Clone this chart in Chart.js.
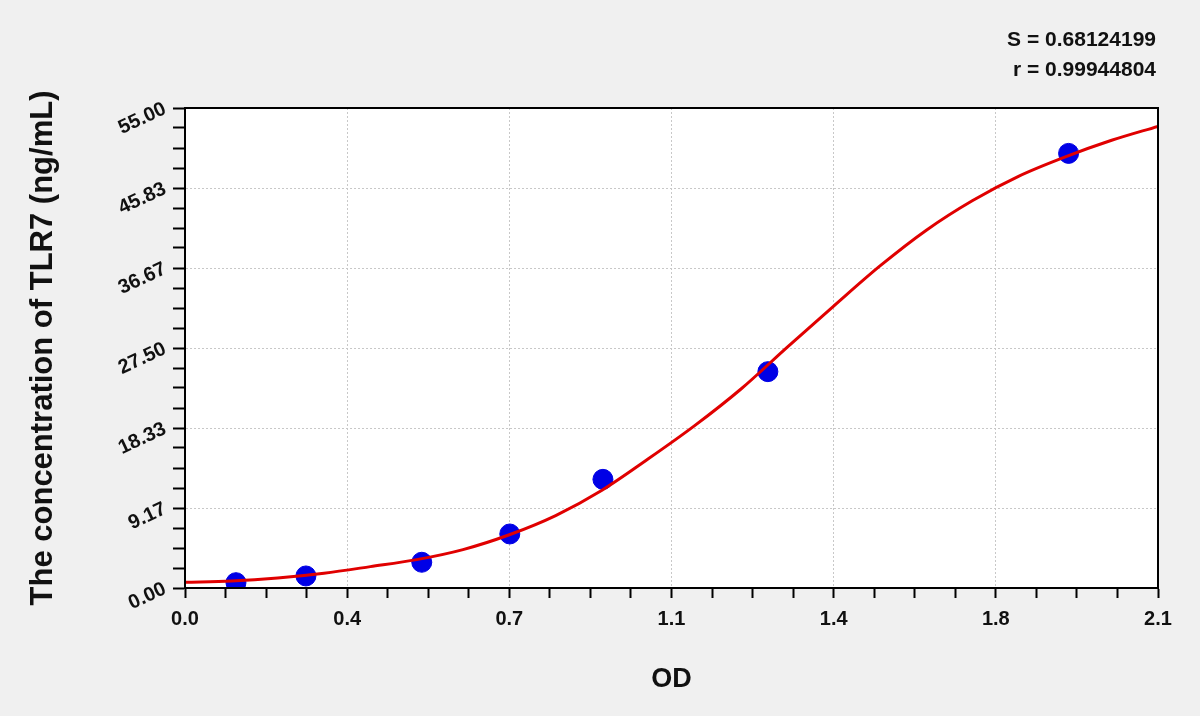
<!DOCTYPE html>
<html>
<head>
<meta charset="utf-8">
<script src="https://cdn.jsdelivr.net/npm/chart.js@4/dist/chart.umd.min.js"></script>
<style>
  body { margin: 0; background: #f0f0f0; }
  #wrap { width: 1200px; height: 716px; }
</style>
</head>
<body>
<div id="wrap"><canvas id="myChart" width="1200" height="716"></canvas></div>
<script>
// standards (blue dots)
const stdOD = [0.110, 0.261, 0.511, 0.701, 0.902, 1.258, 1.907];
const stdConc = [0.61, 1.38, 2.95, 6.19, 12.45, 24.79, 49.80];

// fitted curve (red line)
const curveOD = [0.0, 0.1, 0.2, 0.3, 0.4, 0.5, 0.6, 0.7, 0.8, 0.9, 1.0, 1.1, 1.2, 1.3, 1.4, 1.5, 1.6, 1.7, 1.8, 1.9, 2.0, 2.1];
const curveConc = [0.65, 0.80, 1.15, 1.70, 2.45, 3.25, 4.40, 6.10, 8.30, 11.2, 14.8, 18.6, 22.8, 27.6, 32.3, 36.9, 41.0, 44.4, 47.2, 49.4, 51.3, 52.9];

// axis labels
const xTickLabels = ["0.0", "0.4", "0.7", "1.1", "1.4", "1.8", "2.1"];
const yTickLabels = ["0.00", "9.17", "18.33", "27.50", "36.67", "45.83", "55.00"];
const xMax = 2.1;
const yMax = 55;
const fitStats = ["S = 0.68124199", "r = 0.99944804"];

const minorPerMajor = 4;

Chart.defaults.font.family = "'Liberation Sans', Arial, sans-serif";
Chart.defaults.font.weight = "bold";
Chart.defaults.color = "#111";

function tickList(max, labels) {
  const n = (labels.length - 1) * minorPerMajor;
  const out = [];
  for (let i = 0; i <= n; i++) out.push({ value: (max * i) / n });
  return out;
}

const background = {
  id: "background",
  beforeDraw(chart) {
    const { ctx, chartArea: a } = chart;
    ctx.save();
    ctx.fillStyle = "#f0f0f0";
    ctx.fillRect(0, 0, chart.width, chart.height);
    ctx.fillStyle = "#fff";
    ctx.fillRect(a.left, a.top, a.right - a.left, a.bottom - a.top);
    ctx.restore();
  },
};

const frame = {
  id: "frame",
  afterDraw(chart) {
    const { ctx, chartArea: a } = chart;
    ctx.save();
    ctx.strokeStyle = "#000";
    ctx.lineWidth = 2;
    ctx.strokeRect(a.left, a.top, a.right - a.left, a.bottom - a.top);
    // fit statistics, top right
    ctx.fillStyle = "#111";
    ctx.font = "bold 21px 'Liberation Sans', Arial, sans-serif";
    ctx.textAlign = "right";
    ctx.textBaseline = "middle";
    ctx.fillText(fitStats[0], a.right - 2, 40);
    ctx.fillText(fitStats[1], a.right - 2, 70);
    ctx.restore();
  },
};

const ctx = document.getElementById("myChart");

new Chart(ctx, {
  type: "scatter",
  data: {
    datasets: [
      {
        label: "fit",
        data: curveOD.map((x, i) => ({ x: x, y: curveConc[i] })),
        showLine: true,
        borderColor: "#e00000",
        borderWidth: 3,
        pointRadius: 0,
        cubicInterpolationMode: "monotone",
      },
      {
        label: "standards",
        data: stdOD.map((x, i) => ({ x: x, y: stdConc[i] })),
        backgroundColor: "#0000e6",
        borderColor: "#0000e6",
        pointRadius: 10,
      },
    ],
  },
  options: {
    responsive: false,
    animation: false,
    devicePixelRatio: 1,
    layout: { padding: { top: 108, right: 42, left: 0, bottom: 0 } },
    plugins: { legend: { display: false }, tooltip: { enabled: false } },
    scales: {
      x: {
        type: "linear",
        min: 0,
        max: xMax,
        afterBuildTicks: (scale) => { scale.ticks = tickList(xMax, xTickLabels); },
        afterFit: (scale) => { scale.height = 128; },
        ticks: {
          autoSkip: false,
          maxRotation: 0,
          minRotation: 0,
          padding: 9,
          font: { size: 20, weight: "bold" },
          color: "#111",
          callback: (v, i) => (i % minorPerMajor === 0 ? xTickLabels[i / minorPerMajor] : ""),
        },
        grid: {
          color: (c) => (c.index % minorPerMajor === 0 ? "#c8c8c8" : "rgba(0,0,0,0)"),
          lineWidth: 1,
          tickColor: "#000",
          tickLength: 10,
          tickWidth: 2,
        },
        border: { color: "#000", width: 2, dash: [2, 2] },
        title: {
          display: true,
          text: "OD",
          font: { size: 27, weight: "bold" },
          color: "#111",
          padding: { top: 0, bottom: 20 },
        },
      },
      y: {
        type: "linear",
        min: 0,
        max: yMax,
        afterBuildTicks: (scale) => { scale.ticks = tickList(yMax, yTickLabels); },
        afterFit: (scale) => { scale.width = 185; },
        ticks: {
          autoSkip: false,
          minRotation: 25,
          maxRotation: 25,
          padding: 8,
          font: { size: 20, weight: "bold" },
          color: "#111",
          callback: (v, i) => (i % minorPerMajor === 0 ? yTickLabels[i / minorPerMajor] : ""),
        },
        grid: {
          color: (c) => (c.index % minorPerMajor === 0 ? "#c8c8c8" : "rgba(0,0,0,0)"),
          lineWidth: 1,
          tickColor: "#000",
          tickLength: 12,
          tickWidth: 2,
        },
        border: { color: "#000", width: 2, dash: [2, 2] },
        title: {
          display: true,
          text: "The concentration of TLR7 (ng/mL)",
          font: { size: 31, weight: "bold" },
          color: "#111",
          padding: { top: 25, bottom: 0 },
        },
      },
    },
  },
  plugins: [background, frame],
});
</script>
</body>
</html>
